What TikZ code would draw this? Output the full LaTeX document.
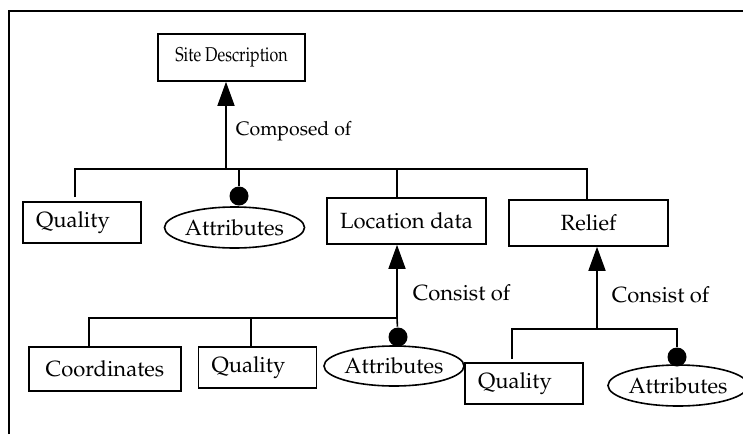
\documentclass[tikz,border=0pt]{standalone}
\usepackage[T1]{fontenc}
\usepackage{mathpazo}
\usetikzlibrary{arrows.meta,shapes.geometric}

\begin{document}
\begin{tikzpicture}[x=1pt, y=-1pt, line width=1.6pt,
    font=\fontsize{22}{26}\selectfont,
    entity/.style={draw, inner sep=0pt},
    quality/.style={entity, minimum width=118pt, minimum height=41pt,
      text width=92pt, align=left},
    attrib/.style={draw, ellipse, inner sep=0pt,
      minimum width=120pt, minimum height=41pt},
    partof/.style={-{Triangle[width=17pt,length=24pt]}},
    knob/.style={circle, fill, inner sep=0pt, minimum size=19pt},
    rel/.style={anchor=west, inner sep=0pt}]
  \useasboundingbox (0,0) rectangle (743,434);
  % Frame, open at the right and bottom
  \draw (9,434) -- (9,11) -- (743,11);

  % Top entity and its parts
  \node[entity, minimum width=147pt, minimum height=47pt,
    font=\fontsize{20}{24}\selectfont] (site) at (231.5,57.5) {\scalebox{0.8}[1]{Site Description}};
  \node[quality] (quality1) at (82,222.5) {Quality};
  \node[attrib, minimum width=121pt] (attrib1) at (234.5,227.5) {Attributes};
  \node[entity, minimum width=159pt, minimum height=46pt] (location) at (406.5,221) {Location data};
  \node[entity, minimum width=159pt, minimum height=46pt] (relief) at (588.5,223) {Relief};

  % Parts of the location data
  \node[entity, minimum width=152pt, minimum height=44pt] (coords) at (105,369) {Coordinates};
  \node[quality] (quality2) at (257.5,367.5) {Quality};
  \node[attrib, minimum height=40pt] (attrib2) at (394,366) {Attributes};

  % Parts of the relief
  \node[quality] (quality3) at (524,383.5) {Quality};
  \node[attrib] (attrib3) at (678,385.5) {Attributes};

  % Attribute knobs
  \node[knob] (knob1) at (239,196) {};
  \node[knob] (knob2) at (398,337) {};
  \node[knob] (knob3) at (677,357) {};

  % Composed of
  \coordinate (bus1) at (226,169);
  \draw[partof] (bus1) -- (bus1 |- site.south);
  \node[rel, font=\fontsize{19.5}{22}\selectfont] (composed) at (235,131) {Composed of};
  \draw ([xshift=-7pt,yshift=4pt]quality1.north) |- (bus1) -| ([xshift=-1.5pt]relief.north);
  \draw (bus1 -| knob1) -- (knob1);

  % Location data consists of
  \coordinate (bus2) at (397,318);
  \draw (bus2 |- bus1) -- (bus2 |- location.north);
  \draw[partof] (bus2) -- (bus2 |- location.south);
  \node[rel] (consist1) at (412,293) {Consist of};
  \draw ([xshift=-16pt]coords.north) |- (bus2) -- (knob2);
  \draw ([xshift=-6.5pt]quality2.north) coordinate (q2top) -- (q2top |- bus2);

  % Relief consists of
  \coordinate (bus3) at (597,329);
  \draw[partof] (bus3) -- (bus3 |- relief.south);
  \node[rel] (consist2) at (611,295) {Consist of};
  \draw ([xshift=-12pt,yshift=3pt]quality3.north) |- (bus3) -| (knob3);
\end{tikzpicture}
\end{document}
